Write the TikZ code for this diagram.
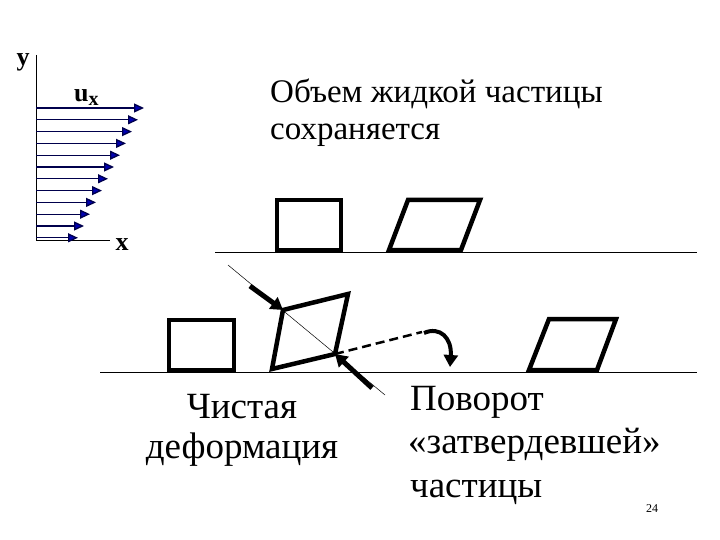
\documentclass[tikz,border=0pt]{standalone}
\usepackage{fontspec}
\setmainfont{Liberation Serif}
\usetikzlibrary{arrows.meta}
\begin{document}
\begin{tikzpicture}[x=1pt,y=-1pt,
  prof/.style={draw=blue!30!black,line width=1.3pt,-{Triangle[length=10pt,width=9pt,fill=blue!70!black]}},
  box/.style={line width=4.5pt,line join=miter},
  topt/.style={font=\fontsize{33}{33}\selectfont,inner sep=0pt},
  bigt/.style={font=\fontsize{37}{37}\selectfont,inner sep=0pt},
  axl/.style={font=\bfseries\fontsize{26}{26}\selectfont,inner sep=0pt},
  thickarr/.style={line width=5pt,-{Triangle[length=12pt,width=14pt]}}]
\useasboundingbox[fill=white] (0,0) rectangle (720,540);
% axes
\coordinate (yt) at (36,55); \coordinate (o) at (36,240); \coordinate (xe) at (110,240);
\draw[line width=0.8pt] (yt) -- (o) -- (xe);
\node[axl,anchor=base] (ylab) at (23,66) {y};
\node[axl,anchor=base] (xlab) at (122,250) {x};
\node[axl,anchor=base west] (ux) at (74,102) {u\raisebox{-4pt}{\fontsize{20}{20}\selectfont x}};
\foreach \i in {0,...,11}{
  \pgfmathsetmacro\yy{108+\i*11.8}
  \pgfmathsetmacro\xx{144-\i*6}
  \draw[prof] (36,\yy) -- (\xx,\yy);
}
% text
\node[topt,anchor=base west] (t1a) at (270,103) {Объем жидкой частицы};
\node[topt,anchor=base west] (t1b) at (270,140) {сохраняется};
% lines
\coordinate (l1a) at (215,252); \coordinate (l1b) at (697,252);
\coordinate (l2a) at (100,372); \coordinate (l2b) at (697,372);
\draw[line width=0.8pt] (l1a) -- (l1b);
\draw[line width=0.8pt] (l2a) -- (l2b);
% top boxes
\draw[box] (277,200) rectangle (341,250);
\draw[box] (389,250) -- (408,200) -- (480,200) -- (461,250) -- cycle;
% bottom
\draw[box] (169,320) rectangle (234,370);
\coordinate (q1) at (283,310); \coordinate (q2) at (348,294);
\coordinate (q3) at (335,354); \coordinate (q4) at (272,369);
\draw[box] (q1) -- (q2) -- (q3) -- (q4) -- cycle;
\coordinate (d1) at (228,265); \coordinate (d2) at (385,395);
\draw[line width=0.5pt] (d1) -- (d2);
\coordinate (a1) at (250,286); \coordinate (a2) at (372,388);
\draw[thickarr] (a1) -- (q1);
\draw[thickarr] (a2) -- (q3);
\coordinate (r1) at (422,332);
\draw[line width=2.5pt,dash pattern=on 9pt off 5pt] (q3) -- (r1);
\coordinate (r2) at (450,367);
\draw[line width=4pt,-{Triangle[length=12pt,width=14pt]}] (424,333) .. controls (440,326) and (452,338) .. (r2);
\draw[box] (529,370) -- (549,319) -- (616,319) -- (597,370) -- cycle;
% labels
\node[bigt,anchor=base] (t2a) at (242,418) {Чистая};
\node[bigt,anchor=base] (t2b) at (242,458) {деформация};
\node[bigt,anchor=base west] (t3a) at (410,410) {Поворот};
\node[bigt,anchor=base west] (t3b) at (408,453) {«затвердевшей»};
\node[bigt,anchor=base west] (t3c) at (410,497) {частицы};
\node[font=\fontsize{12}{12}\selectfont,anchor=base] (pg) at (652,512) {24};
\end{tikzpicture}
\end{document}
